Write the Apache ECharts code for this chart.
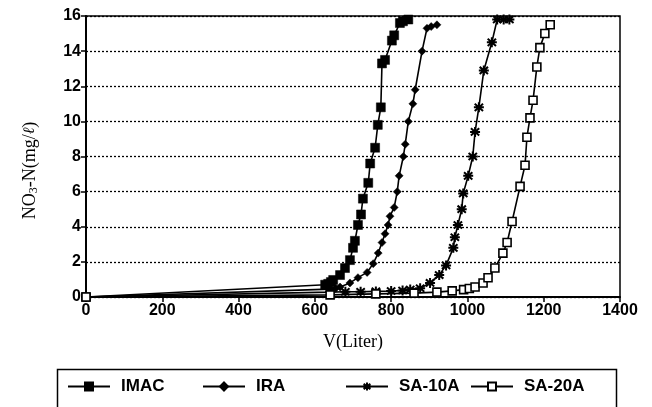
<!DOCTYPE html>
<html>
<head>
<meta charset="utf-8">
<script src="https://cdn.jsdelivr.net/npm/echarts@6/dist/echarts.min.js"></script>
<style>
  html, body { margin: 0; padding: 0; background: #fff; }
  #chart { width: 652px; height: 407px; }
</style>
</head>
<body>
<div id="chart"></div>
<script>
// breakthrough curves, [V (Liter), NO3-N (mg/l)]
const seriesNames = ["IMAC", "IRA", "SA-10A", "SA-20A"];

const imacData = [
  [0, 0], [627, 0.7], [635, 0.75], [642, 0.85], [648, 0.97], [666, 1.25], [679, 1.65],
  [692, 2.1], [700, 2.8], [705, 3.2], [713, 4.1], [721, 4.7], [726, 5.6], [740, 6.5],
  [745, 7.6], [758, 8.5], [765, 9.8], [773, 10.8], [776, 13.3], [784, 13.5], [802, 14.6],
  [808, 14.9], [823, 15.6], [831, 15.7], [845, 15.8],
];

const iraData = [
  [0, 0], [640, 0.45], [655, 0.5], [666, 0.57], [692, 0.8], [713, 1.1], [737, 1.4],
  [753, 1.9], [766, 2.5], [776, 3.1], [784, 3.6], [792, 4.1], [797, 4.6], [808, 5.1],
  [816, 6.0], [821, 6.9], [832, 8.0], [837, 8.7], [845, 10.0], [857, 11.0], [863, 11.8],
  [881, 14.0], [894, 15.3], [905, 15.4], [920, 15.5],
];

const sa10aData = [
  [0, 0], [640, 0.28], [680, 0.3], [720, 0.3], [760, 0.32], [800, 0.34], [830, 0.37],
  [850, 0.42], [876, 0.5], [902, 0.8], [926, 1.25], [944, 1.8], [963, 2.8], [967, 3.4],
  [975, 4.1], [985, 5.0], [989, 5.9], [1002, 6.9], [1014, 8.0], [1020, 9.4], [1030, 10.8],
  [1043, 12.9], [1064, 14.5], [1078, 15.8], [1095, 15.8], [1110, 15.8],
];

const sa20aData = [
  [0, 0], [640, 0.12], [760, 0.18], [860, 0.22], [920, 0.28], [960, 0.35], [990, 0.42],
  [1005, 0.48], [1020, 0.57], [1041, 0.8], [1054, 1.1], [1072, 1.65], [1093, 2.5],
  [1104, 3.1], [1117, 4.3], [1138, 6.3], [1151, 7.5], [1156, 9.1], [1164, 10.2],
  [1172, 11.2], [1182, 13.1], [1190, 14.2], [1203, 15.0], [1217, 15.5],
];

const tickFont = { color: "#000", fontFamily: "Liberation Sans", fontWeight: "bold", fontSize: 16 };
const legendFont = { color: "#000", fontFamily: "Liberation Sans", fontWeight: "bold", fontSize: 17, padding: [0, 0, 0, 6] };
const asterisk = "path://M0,0L10,10M10,0L0,10M5,-2L5,12M-1,5L11,5";

function makeSeries(name, data, symbol, size, fill, border) {
  return {
    name,
    type: "line",
    data,
    symbol,
    symbolSize: size,
    showAllSymbol: true,
    clip: false,
    lineStyle: { color: "#000", width: 1.6 },
    itemStyle: { color: fill, borderColor: "#000", borderWidth: border },
    emphasis: { disabled: true },
  };
}

function makeLegend(name, left) {
  return {
    data: [name],
    left,
    top: 373,
    itemWidth: 42,
    itemHeight: 10,
    textStyle: legendFont,
    selectedMode: false,
  };
}

const chart = echarts.init(document.getElementById("chart"));

chart.setOption({
  animation: false,
  backgroundColor: "#fff",
  grid: {
    left: 86,
    right: 32,
    top: 16,
    bottom: 110,
    show: true,
    borderColor: "#000",
    borderWidth: 1.5,
  },
  xAxis: {
    type: "value",
    min: 0,
    max: 1400,
    interval: 200,
    name: "V(Liter)",
    nameLocation: "middle",
    nameGap: 36,
    nameTextStyle: { color: "#000", fontFamily: "Liberation Serif", fontSize: 18 },
    axisLine: { lineStyle: { color: "#000", width: 2 } },
    axisTick: { show: true, length: 5, lineStyle: { color: "#000", width: 1.5 } },
    axisLabel: { ...tickFont, margin: 6, formatter: (v) => String(v) },
    splitLine: { show: false },
  },
  yAxis: {
    type: "value",
    min: 0,
    max: 16,
    interval: 2,
    name: "{t|NO}{s|3}{t|-N(mg/}{i|ℓ}{t|)}",
    nameLocation: "middle",
    nameGap: 46,
    nameRotate: 90,
    nameTextStyle: {
      color: "#000",
      padding: [0, 28, 0, 0],
      rich: {
        t: { fontFamily: "Liberation Serif", fontSize: 18, color: "#000" },
        i: { fontFamily: "DejaVu Serif", fontStyle: "italic", fontSize: 16, color: "#000" },
        s: { fontFamily: "Liberation Serif", fontSize: 12, color: "#000", padding: [8, 0, 0, 0] },
      },
    },
    axisLine: { show: true, lineStyle: { color: "#000", width: 2 } },
    axisTick: { show: true, length: 5, lineStyle: { color: "#000", width: 1.5 } },
    axisLabel: { ...tickFont, margin: 5, formatter: (v) => String(v) },
    splitLine: { show: true, lineStyle: { color: "#000", width: 1.3, type: [2, 2] } },
  },
  legend: [
    makeLegend(seriesNames[0], 62),
    makeLegend(seriesNames[1], 197),
    makeLegend(seriesNames[2], 340),
    makeLegend(seriesNames[3], 465),
  ],
  graphic: [
    {
      type: "rect",
      left: 55,
      top: 367,
      shape: { width: 559, height: 48 },
      style: { fill: "none", stroke: "#000", lineWidth: 1.5 },
      silent: true,
    },
  ],
  series: [
    makeSeries(seriesNames[0], imacData, "rect", 9, "#000", 0.5),
    makeSeries(seriesNames[1], iraData, "diamond", 8, "#000", 0.5),
    makeSeries(seriesNames[2], sa10aData, asterisk, 10, "#000", 2),
    makeSeries(seriesNames[3], sa20aData, "rect", 8, "#fff", 1.6),
  ],
});
</script>
</body>
</html>
